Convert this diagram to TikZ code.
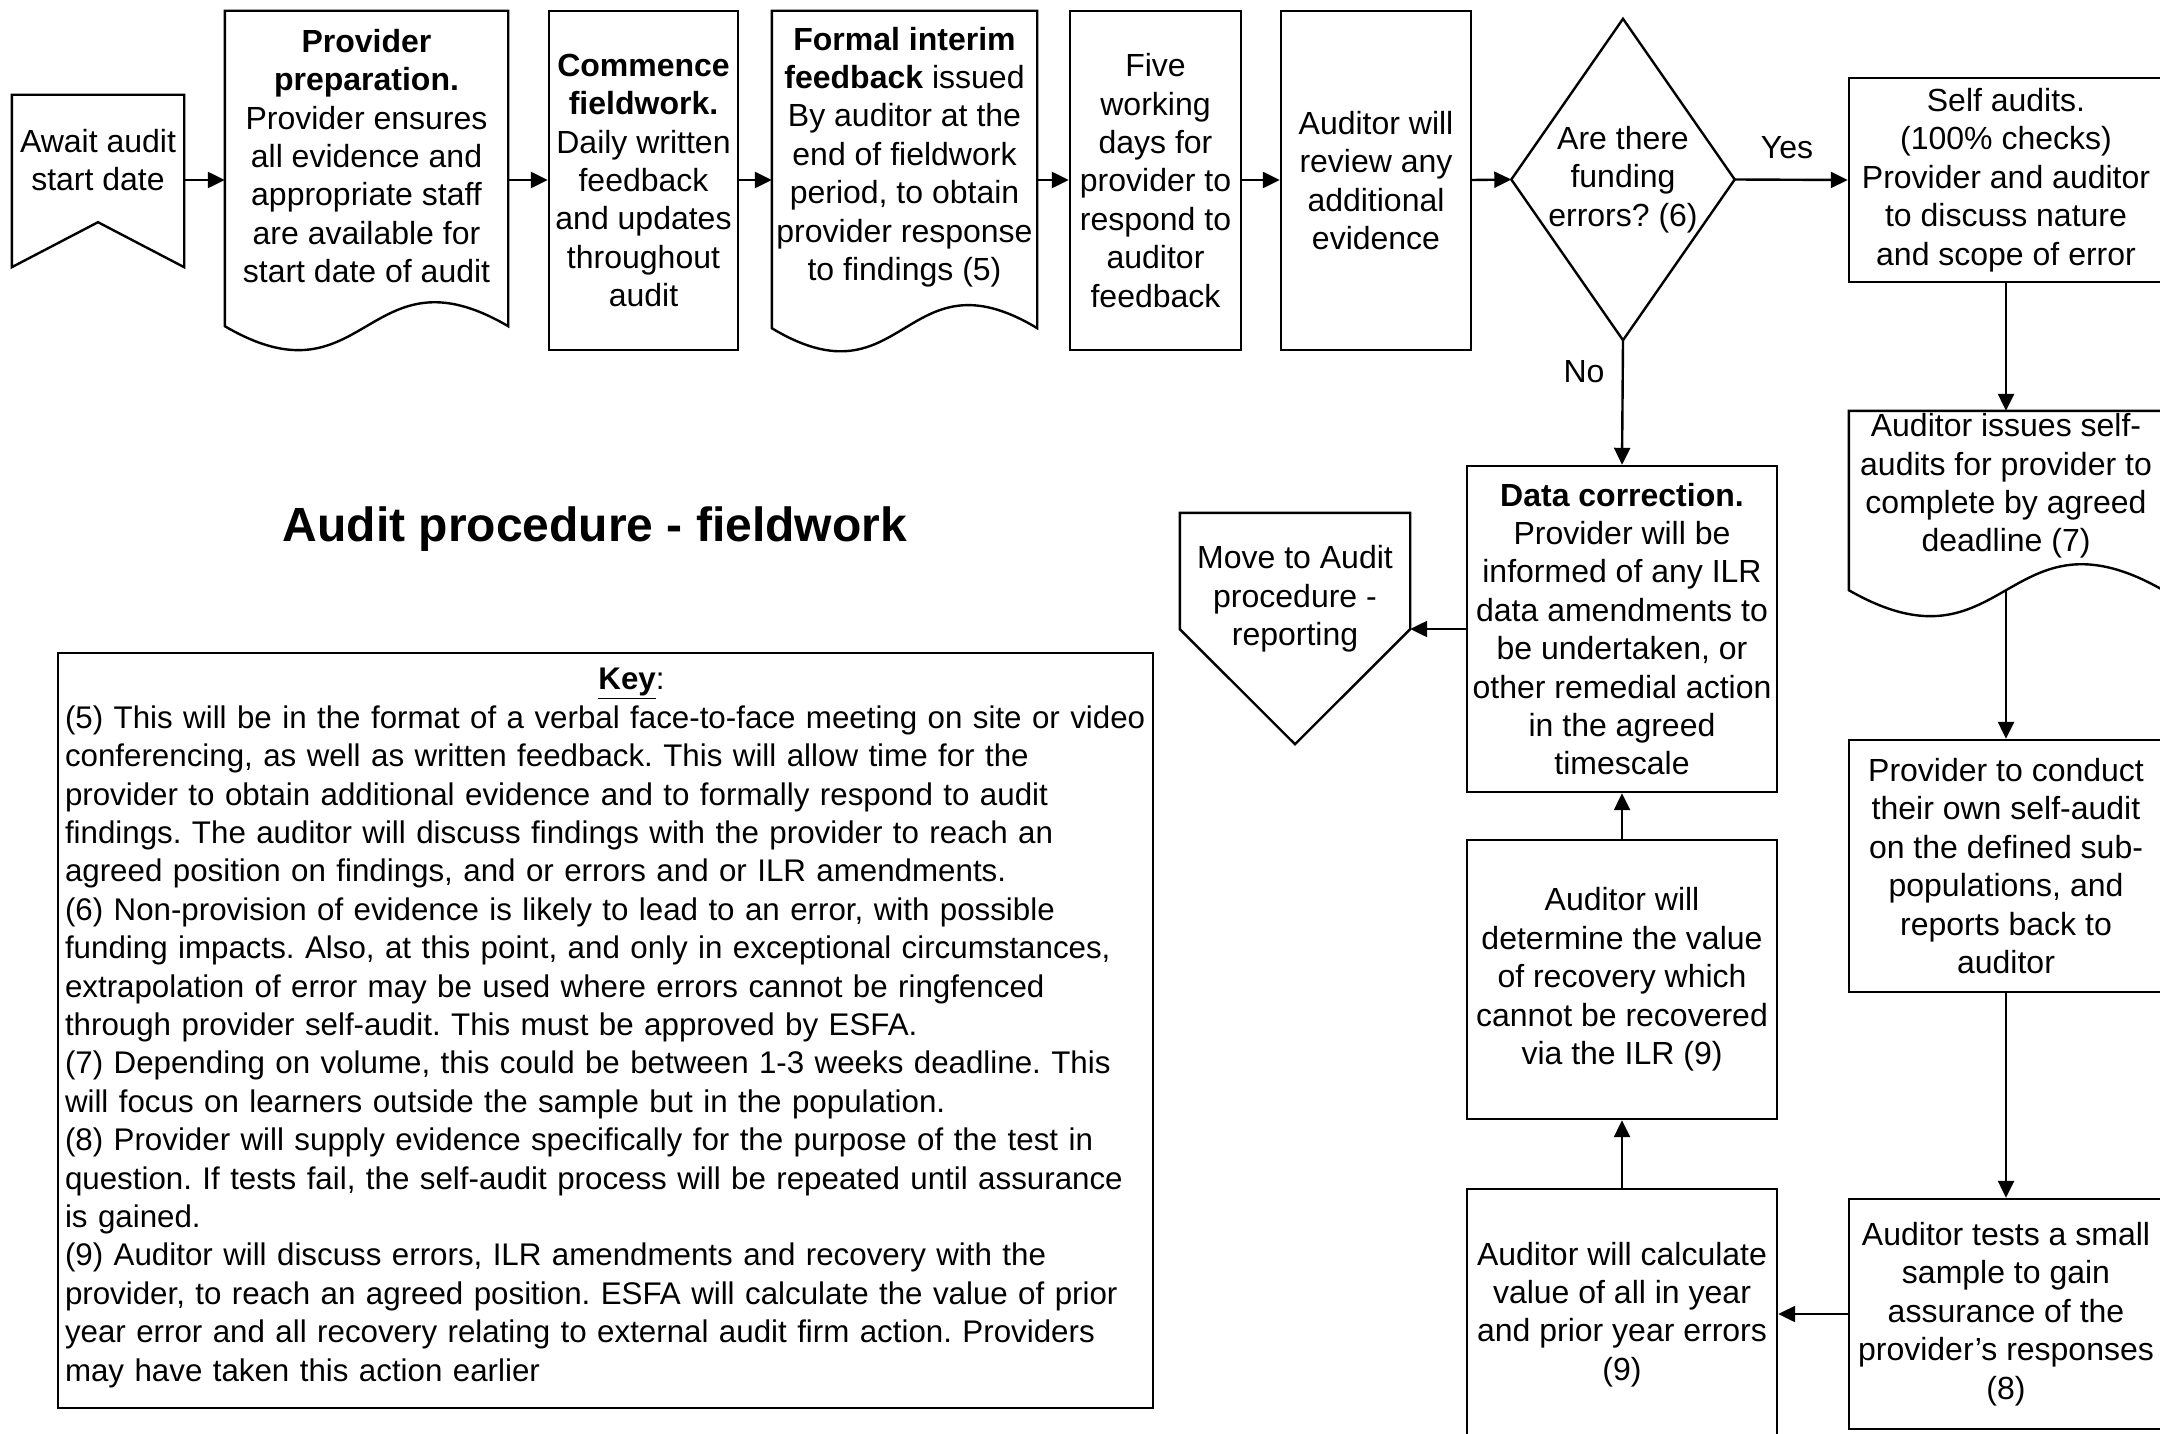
\documentclass[tikz,border=0pt]{standalone}
\usepackage{fontspec}
\setmainfont{Liberation Sans}
\usetikzlibrary{arrows.meta}
\frenchspacing
\newcommand\boxfont{\fontsize{32}{38.4}\selectfont}
\newcommand\keyfont{\fontsize{31.3}{38.4}\selectfont}
\newcommand\titlefont{\fontsize{48}{56}\selectfont\bfseries}
\tikzset{
  box/.style={draw, line width=2.4pt, inner sep=0pt, align=center, font=\boxfont},
  textonly/.style={inner sep=0pt, align=center, font=\boxfont},
  shapeline/.style={line width=2.4pt},
  conn/.style={line width=2.4pt, ->},
}
\begin{document}
\begin{tikzpicture}[x=1pt,y=-1pt,>={Triangle[length=17pt,width=16pt]}]
\useasboundingbox (0,0) rectangle (2160,1434);
\clip (0,0) rectangle (2160,1434);
% top row
\node[textonly, minimum width=172pt, minimum height=130pt] (await) at (98,160) {Await audit\\start date};
\draw[shapeline] (await.north west) -- (await.north east) -- ([yshift=-42pt]await.south east) -- ([yshift=3pt]await.south) -- ([yshift=-42pt]await.south west) -- cycle;
\node[textonly, minimum width=283pt, minimum height=290pt] (prep) at (366.5,156) {\textbf{Provider}\\\textbf{preparation.}\\Provider ensures\\all evidence and\\appropriate staff\\are available for\\start date of audit};
\draw[shapeline] (prep.north west) -- (prep.north east) -- ([yshift=-25pt]prep.south east) .. controls ([yshift=58pt]prep.south) and ([yshift=-108pt]prep.south) .. ([yshift=-25pt]prep.south west) -- cycle;
\node[box, minimum width=189pt, minimum height=339pt] (commence) at (643.5,180.5) {\textbf{Commence}\\\textbf{fieldwork.}\\Daily written\\feedback\\and updates\\throughout\\audit};
\node[textonly, minimum width=265pt, minimum height=292pt] (formal) at (904.5,157) {\textbf{Formal interim}\\\textbf{feedback} issued\\By auditor at the\\end of fieldwork\\period, to obtain\\provider response\\to findings (5)};
\draw[shapeline] (formal.north west) -- (formal.north east) -- ([yshift=-25pt]formal.south east) .. controls ([yshift=55pt]formal.south) and ([yshift=-105pt]formal.south) .. ([yshift=-25pt]formal.south west) -- cycle;
\node[box, minimum width=171pt, minimum height=339pt] (five) at (1155.5,180.5) {Five\\working\\days for\\provider to\\respond to\\auditor\\feedback};
\node[box, minimum width=190pt, minimum height=339pt] (review) at (1376,180.5) {Auditor will\\review any\\additional\\evidence};
\node[textonly, minimum width=223pt, minimum height=321pt] (funding) at (1623,179.5) {Are there\\funding\\errors? (6)};
\draw[shapeline] (funding.north) -- (funding.east) -- (funding.south) -- (funding.west) -- cycle;
\node[textonly] (yes) at (1787,148) {Yes};
\node[textonly] (no) at (1584,372) {No};
% right column
\node[box, minimum width=314pt, minimum height=204pt] (selfaud) at (2006,180) {Self audits.\\(100\% checks)\\Provider and auditor\\to discuss nature\\and scope of error};
\node[textonly, minimum width=314pt, minimum height=150pt] (issues) at (2006,486) {Auditor issues self-\\audits for provider to\\complete by agreed\\deadline (7)};
\draw[shapeline] (issues.north west) -- (issues.north east) -- ([yshift=-29pt]issues.south east) .. controls ([yshift=61pt]issues.south) and ([yshift=-119pt]issues.south) .. ([yshift=-29pt]issues.south west) -- cycle;
\node[box, minimum width=314pt, minimum height=252pt] (conduct) at (2006,866) {Provider to conduct\\their own self-audit\\on the defined sub-\\populations, and\\reports back to\\auditor};
\node[box, minimum width=314pt, minimum height=230pt] (tests) at (2006,1314) {Auditor tests a small\\sample to gain\\assurance of the\\provider’s responses\\(8)};
% middle column
\node[box, minimum width=310pt, minimum height=251pt] (calc) at (1622,1314.5) {Auditor will calculate\\value of all in year\\and prior year errors\\(9)};
\node[box, minimum width=310pt, minimum height=279pt] (determ) at (1622,979.5) {Auditor will\\determine the value\\of recovery which\\cannot be recovered\\via the ILR (9)};
\node[box, minimum width=310pt, minimum height=326pt] (datacorr) at (1622,629) {\textbf{Data correction.}\\Provider will be\\informed of any ILR\\data amendments to\\be undertaken, or\\other remedial action\\in the agreed\\timescale};
\node[textonly, minimum width=230pt, minimum height=172pt] (move) at (1295,599) {Move to Audit\\procedure -\\reporting};
\draw[shapeline] (move.north west) -- (move.north east) -- ([yshift=56pt]move.south east) -- ([yshift=-59pt]move.south) -- ([yshift=56pt]move.south west) -- cycle;
% title and key
\node[font=\titlefont, inner sep=0pt] (title) at (595,529) {Audit procedure - fieldwork};
\node[draw, line width=2.4pt, minimum width=1095pt, minimum height=755pt, text width=1081pt, inner xsep=7pt, align=left, font=\keyfont] (key) at (605.5,1030.5) {\centerline{\hspace{52pt}\underline{\textbf{Key}}:}
\noindent\begin{tabular}[t]{@{}l@{}}
(5) This will be in the format of a verbal face-to-face meeting on site or video\\
conferencing, as well as written feedback. This will allow time for the\\
provider to obtain additional evidence and to formally respond to audit\\
findings. The auditor will discuss findings with the provider to reach an\\
agreed position on findings, and or errors and or ILR amendments.\\
(6) Non-provision of evidence is likely to lead to an error, with possible\\
funding impacts. Also, at this point, and only in exceptional circumstances,\\
extrapolation of error may be used where errors cannot be ringfenced\\
through provider self-audit. This must be approved by ESFA.\\
(7) Depending on volume, this could be between 1-3 weeks deadline. This\\
will focus on learners outside the sample but in the population.\\
(8) Provider will supply evidence specifically for the purpose of the test in\\
question. If tests fail, the self-audit process will be repeated until assurance\\
is gained.\\
(9) Auditor will discuss errors, ILR amendments and recovery with the\\
provider, to reach an agreed position. ESFA will calculate the value of prior\\
year error and all recovery relating to external audit firm action. Providers\\
may have taken this action earlier
\end{tabular}};
% connectors
\coordinate (level) at (0,180);
\draw[conn] (await.east |- level) -- (prep.west |- level);
\draw[conn] (prep.east |- level) -- (commence.west |- level);
\draw[conn] (commence.east |- level) -- (formal.west |- level);
\draw[conn] (formal.east |- level) -- (five.west |- level);
\draw[conn] (five.east |- level) -- (review.west |- level);
\draw[conn] (review.east |- level) -- (funding.west);
\draw[conn] (funding.east) -- (selfaud.west);
\draw[conn] (funding.south) -- (datacorr.north);
\draw[conn] (selfaud.south) -- (issues.north);
\draw[conn] ([yshift=-29pt]issues.south) -- (conduct.north);
\draw[conn] (conduct.south) -- (tests.north);
\draw[conn] (tests.west) -- (tests.west -| calc.east);
\draw[conn] (calc.north) -- (determ.south);
\draw[conn] (determ.north) -- (datacorr.south);
\draw[conn] (datacorr.west) -- (datacorr.west -| move.east);
\end{tikzpicture}
\end{document}
